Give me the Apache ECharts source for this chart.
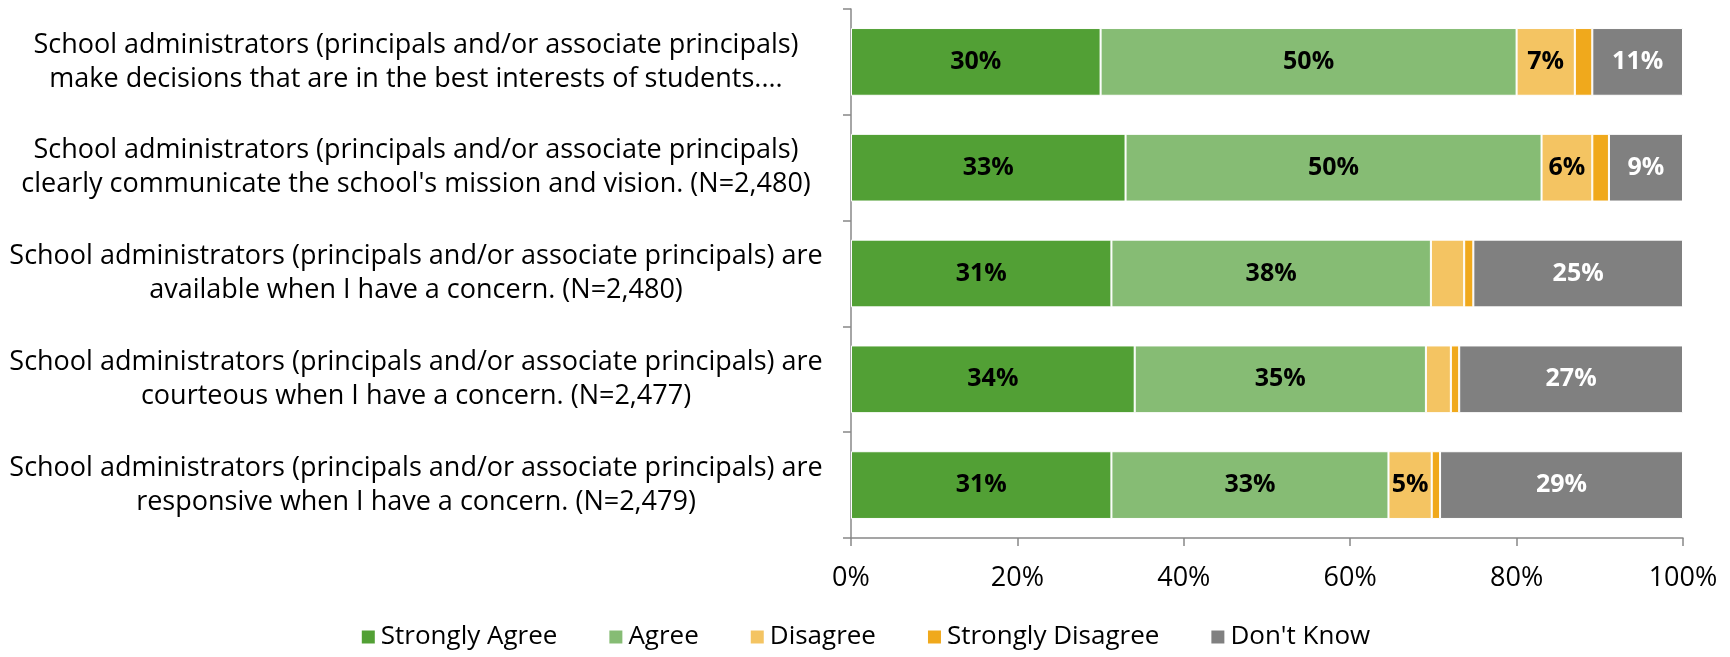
<!DOCTYPE html>
<html>
<head>
<meta charset="utf-8">
<script src="https://cdn.jsdelivr.net/npm/echarts@6/dist/echarts.min.js"></script>
<style>
  html, body { margin: 0; padding: 0; background: #fff; }
  #chart { width: 1730px; height: 657px; }
</style>
</head>
<body>
<div id="chart"></div>
<script>
// survey statements (top to bottom)
var categories = [
  "School administrators (principals and/or associate principals)\nmake decisions that are in the best interests of students....",
  "School administrators (principals and/or associate principals)\nclearly communicate the school's mission and vision. (N=2,480)",
  "School administrators (principals and/or associate principals) are\navailable when I have a concern. (N=2,480)",
  "School administrators (principals and/or associate principals) are\ncourteous when I have a concern. (N=2,477)",
  "School administrators (principals and/or associate principals) are\nresponsive when I have a concern. (N=2,479)"
];

var seriesNames = ['Strongly Agree', 'Agree', 'Disagree', 'Strongly Disagree', "Don't Know"];

// percentages
var stronglyAgree    = [30, 33, 31.3, 34.1, 31.3];
var agree            = [50, 50, 38.4, 35.0, 33.3];
var disagree         = [7, 6.1, 4.0, 3.0, 5.2];
var stronglyDisagree = [2.1, 2, 1.1, 1.0, 1.0];
var dontKnow         = [10.9, 8.9, 25.2, 26.9, 29.2];

var xTicks = [0, 20, 40, 60, 80, 100];

var colors = ['#52a035', '#86bc74', '#f4c462', '#f0a91c', '#808080'];
var labelColors = ['#000', '#000', '#000', '#000', '#fff'];
var allData = [stronglyAgree, agree, disagree, stronglyDisagree, dontKnow];

var font = "'Open Sans', sans-serif";

var chart = echarts.init(document.getElementById('chart'));

var series = [];
for (var i = 0; i < seriesNames.length; i++) {
  series.push({
    name: seriesNames[i],
    type: 'bar',
    stack: 'total',
    barWidth: '64%',
    data: allData[i],
    itemStyle: { color: colors[i], borderColor: '#fff', borderWidth: 1 },
    label: {
      show: true,
      position: 'inside',
      color: labelColors[i],
      fontFamily: font,
      fontWeight: 'bold',
      fontSize: 25,
      formatter: function (p) {
        // small segments carry no label
        return p.value >= 4.5 ? Math.round(p.value) + '%' : '';
      }
    }
  });
}

var option = {
  animation: false,
  color: colors,
  grid: { left: 851, right: 47, top: 9, bottom: 119 },
  legend: {
    bottom: 2,
    left: 'center',
    itemWidth: 15,
    itemHeight: 15,
    itemGap: 50,
    icon: 'rect',
    textStyle: { fontFamily: font, fontSize: 26, color: '#000' },
    data: seriesNames
  },
  xAxis: {
    type: 'value',
    min: 0,
    max: 100,
    interval: 20,
    axisLine: { show: true, lineStyle: { color: '#888', width: 1.5 } },
    axisTick: { show: true, length: 8, lineStyle: { color: '#888', width: 1.5 } },
    splitLine: { show: false },
    axisLabel: {
      margin: 27,
      fontFamily: font,
      fontSize: 27,
      color: '#000',
      formatter: function (v) { return xTicks.indexOf(v) >= 0 ? v + '%' : ''; }
    }
  },
  yAxis: {
    type: 'category',
    inverse: true,
    data: categories,
    axisLine: { show: true, lineStyle: { color: '#888', width: 1.5 } },
    axisTick: { show: true, length: 8, lineStyle: { color: '#888', width: 1.5 } },
    axisLabel: {
      align: 'center',
      margin: 435,
      fontFamily: font,
      fontSize: 27,
      lineHeight: 34,
      color: '#000'
    }
  },
  series: series
};

chart.setOption(option);
</script>
</body>
</html>
